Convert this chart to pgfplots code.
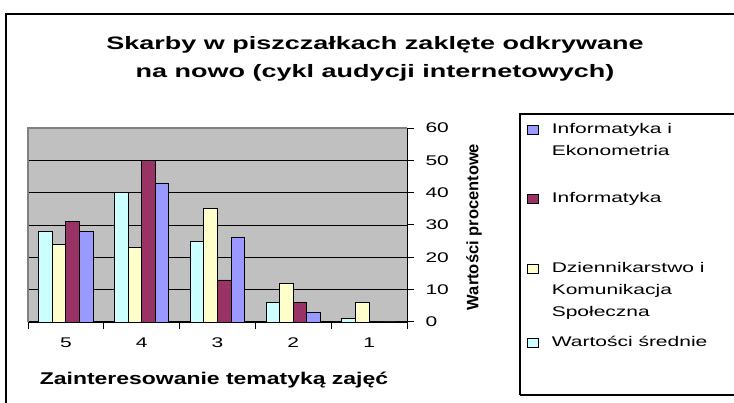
\documentclass[border=0pt]{standalone}
\usepackage{pgfplots}
\pgfplotsset{compat=1.18}
\usepackage{fontspec}
\setmainfont{Liberation Sans}[FakeStretch=1.5]
\newfontfamily\plainfont{Liberation Sans}
\newfontfamily\labelfont{Liberation Sans}[FakeStretch=1.35]
\definecolor{xlcyan}{HTML}{CCFFFF}
\definecolor{xlyellow}{HTML}{FFFFCC}
\definecolor{xlmaroon}{HTML}{993366}
\definecolor{xlblue}{HTML}{9999FF}
\definecolor{xlgray}{HTML}{C0C0C0}
\definecolor{xldark}{HTML}{808080}
\begin{document}
\begin{tikzpicture}[x=1pt,y=1pt]
\useasboundingbox (0,0) rectangle (734,403);
\draw[line width=1.5pt] (6,-10) -- (6,389) -- (760,389);
\draw[line width=1.5pt] (520,8) -- (520,289) -- (760,289);
\draw[line width=1.5pt] (520,8) -- (760,8);
\node[align=center, font=\fontsize{18}{28}\selectfont\bfseries] at (375,344)
  {Skarby w piszczałkach zaklęte odkrywane\\na nowo (cykl audycji internetowych)};
\begin{axis}[
  at={(28pt,81pt)}, anchor=south west,
  scale only axis, width=379pt, height=194pt,
  ybar=0pt, bar width=13.6pt,
  xmin=-0.5, xmax=4.5, ymin=0, ymax=60,
  axis x line*=bottom, axis y line*=right,
  axis line style={black, line width=1pt},
  axis background/.style={fill=xlgray},
  xtick={-0.5,0.5,...,4.5}, xticklabels={{},{},{},{},{},{}},
  extra x ticks={0,1,2,3,4},
  extra x tick labels={5,4,3,2,1},
  extra x tick style={major tick length=0pt, tick style={draw=none}},
  ytick={0,10,...,60},
  /pgf/number format/assume math mode=true,
  xtick align=outside, ytick align=outside, major tick length=7pt,
  tick style={black, line width=1pt},
  ymajorgrids, grid style={black, line width=0.9pt},
  tick label style={font=\fontsize{14}{16}\selectfont},
  yticklabel style={anchor=west, xshift=8pt},
  xticklabel style={anchor=base, yshift=-26pt},
  xlabel={Zainteresowanie tematyką zajęć},
  ylabel={Wartości procentowe},
  every axis x label/.style={at={(rel axis cs:0.4908,-0.3247)}, anchor=base,
    font=\labelfont\fontsize{17}{20}\selectfont\bfseries},
  every axis y label/.style={at={(rel axis cs:1.1768,0.4897)}, anchor=center, rotate=90,
    font=\plainfont\fontsize{16.5}{20}\selectfont\bfseries},
  reverse legend,
  legend cell align=left,
  legend image code/.code={\draw[#1,draw=black,line width=0.8pt] (0pt,-1pt) rectangle (11pt,8pt);},
  legend style={at={(rel axis cs:1.3166,1.0536)}, anchor=north west,
    draw=none, fill=none, inner sep=0pt, outer sep=0pt,
    row sep=0pt, column sep=13pt,
    cells={anchor=base west},
    nodes={inner sep=0pt, text depth=},
    font=\fontsize{14}{22}\selectfont},
  after end axis/.code={
    \draw[xldark, line width=1.8pt] (rel axis cs:0,0) -- (rel axis cs:0,1) -- (rel axis cs:1,1);
  },
]
\addplot[fill=xlcyan, draw=black, line width=0.9pt] coordinates {(0,28) (1,40) (2,25) (3,6) (4,1)};
\addlegendentry{\vtop to 30pt{\hbox{\strut Wartości średnie}\vfil}}
\addplot[fill=xlyellow, draw=black, line width=0.9pt] coordinates {(0,24) (1,23) (2,35) (3,12) (4,6)};
\addlegendentry{\vtop to 74pt{\hbox{\strut Dziennikarstwo i}\hbox{\strut Komunikacja}\hbox{\strut Społeczna}\vfil}}
\addplot[fill=xlmaroon, draw=black, line width=0.9pt] coordinates {(0,31) (1,50) (2,13) (3,6) (4,0)};
\addlegendentry{\vtop to 70pt{\hbox{\strut Informatyka}\vfil}}
\addplot[fill=xlblue, draw=black, line width=0.9pt] coordinates {(0,28) (1,43) (2,26) (3,3) (4,0)};
\addlegendentry{\vtop to 69pt{\hbox{\strut Informatyka i}\hbox{\strut Ekonometria}\vfil}}
\end{axis}
\end{tikzpicture}
\end{document}
